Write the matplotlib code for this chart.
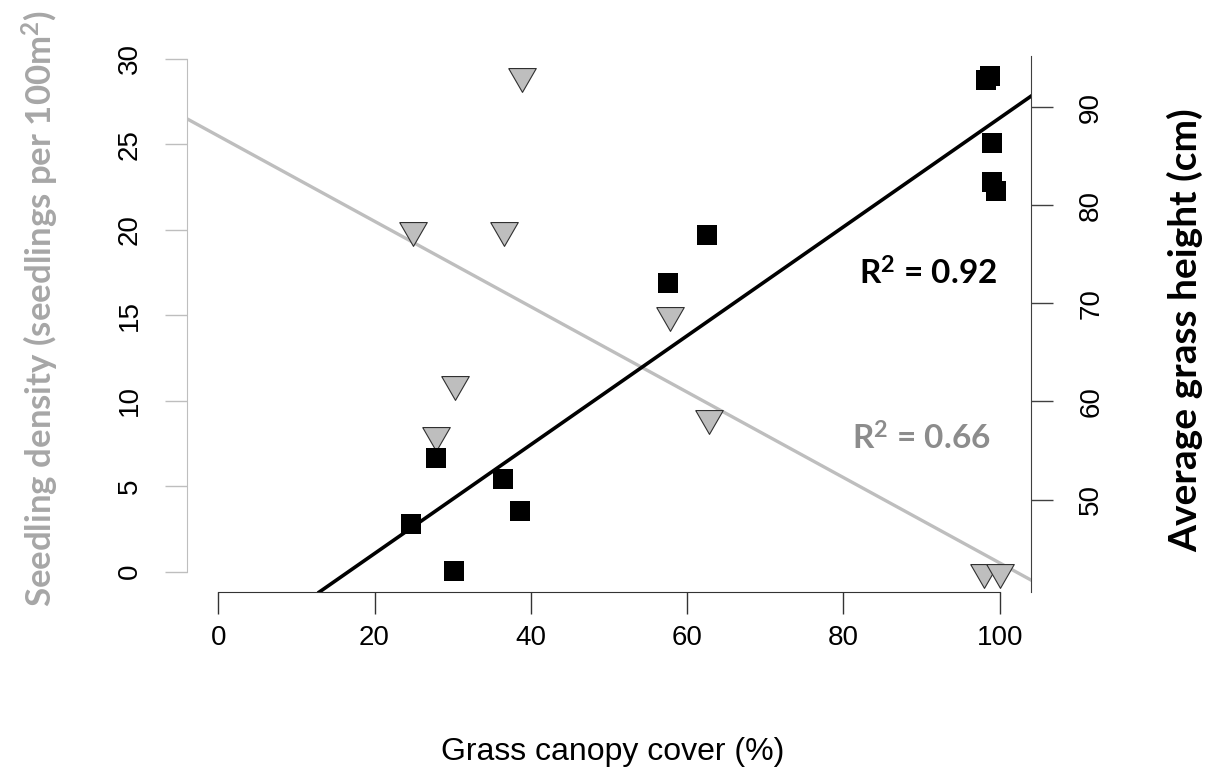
import matplotlib
matplotlib.use('Agg')
import matplotlib.pyplot as plt

# grass canopy cover (%) vs seedling density (grey triangles, left axis)
cover_tri = [24.9, 27.8, 30.3, 36.6, 38.9, 57.8, 62.8, 98.0, 100.0]
seedlings = [20, 8, 11, 20, 29, 15, 9, 0, 0]

# grass canopy cover (%) vs grass height (black squares, right axis)
cover_sq = [24.7, 27.8, 30.2, 36.4, 38.6, 57.6, 62.6, 98.2, 98.7, 99.0, 99.0, 99.5]
height = [47.5, 54.2, 42.7, 52.1, 48.8, 72.1, 77.0, 92.8, 93.2, 86.3, 82.4, 81.5]

# regression lines (intercept, slope)
seed_fit = (25.5, -0.25)
height_fit = (33.4, 0.555)
r2_seed = 0.66
r2_height = 0.92

x_ticks = [0, 20, 40, 60, 80, 100]
seed_ticks = [0, 5, 10, 15, 20, 25, 30]
height_ticks = [50, 60, 70, 80, 90]

GREY = '#bebebe'
TICKFONT = 'Liberation Sans'
TITLEFONT = 'Lato'

plt.rcParams['mathtext.fontset'] = 'custom'
plt.rcParams['mathtext.bf'] = 'Lato:bold'
plt.rcParams['mathtext.rm'] = 'Lato:bold'
plt.rcParams['mathtext.default'] = 'bf'

# R-style down triangle, centred on its centroid (pch = 25)
tri = [(-1.3468, 0.7776), (1.3468, 0.7776), (0.0, -1.5551), (-1.3468, 0.7776)]

fig = plt.figure(figsize=(12.06, 7.72), dpi=100)
ax = fig.add_axes([187 / 1206, 1 - 592 / 772, (1031 - 187) / 1206, (592 - 38.5) / 772])
ax2 = ax.twinx()

ax.set_xlim(-4, 104)
ax.set_ylim(-1.2, 31.2)
ax2.set_ylim(40.58, 97.0)

ax.axline((0, seed_fit[0]), slope=seed_fit[1], color=GREY, lw=2.4, zorder=2)
ax.plot(cover_tri, seedlings, linestyle='none', marker=tri, markersize=22.9,
        markerfacecolor=GREY, markeredgecolor='#303030', markeredgewidth=0.8, zorder=3)

ax2.axline((0, height_fit[0]), slope=height_fit[1], color='black', lw=2.6, zorder=2)
ax2.plot(cover_sq, height, linestyle='none', marker='s', markersize=14.6,
         color='black', markeredgewidth=0, zorder=3)

for a in (ax, ax2):
    a.spines['top'].set_visible(False)
    a.patch.set_visible(False)
ax2.spines['left'].set_visible(False)
ax2.spines['bottom'].set_visible(False)
ax.spines['right'].set_visible(False)

ax.spines['left'].set_bounds(0, 30)
ax.spines['left'].set_color(GREY)
ax.spines['bottom'].set_bounds(0, 100)
ax.spines['bottom'].set_color('#333333')
ax2.spines['right'].set_bounds(40.58, 95.2)
ax2.spines['right'].set_color('#404040')

ax.set_xticks(x_ticks)
ax.set_yticks(seed_ticks)
ax2.set_yticks(height_ticks)

ax.tick_params(axis='x', length=16, width=1, color='#333333', pad=8)
ax.tick_params(axis='y', length=16, width=1, color=GREY, pad=16)
ax2.tick_params(axis='y', length=16, width=1, color='#404040', pad=18)

for lab in ax.get_xticklabels():
    lab.set_fontfamily(TICKFONT)
    lab.set_fontsize(20)
for lab in ax.get_yticklabels() + ax2.get_yticklabels():
    lab.set_fontfamily(TICKFONT)
    lab.set_fontsize(20)
    lab.set_rotation(90)
    lab.set_va('center')

fig.text(613 / 1206, 1 - 752 / 772, 'Grass canopy cover (%)', ha='center', va='center',
         fontsize=23, family=TICKFONT)
fig.text(40 / 1206, 1 - 308 / 772, r'Seedling density (seedlings per 100m$^{2}$)', rotation=90,
         ha='center', va='center', fontsize=25, fontweight='bold', color='#a6a6a6',
         family=TITLEFONT)
fig.text(1185 / 1206, 1 - 330 / 772, 'Average grass height (cm)', rotation=90,
         ha='center', va='center', fontsize=28, fontweight='bold', color='black',
         family=TITLEFONT)

fig.text(928 / 1206, 1 - 273 / 772, r'R$^{2}$ = ' + f'{r2_height:.2f}', ha='center', va='center',
         fontsize=24, fontweight='bold', color='black', family=TITLEFONT)
fig.text(921 / 1206, 1 - 438 / 772, r'R$^{2}$ = ' + f'{r2_seed:.2f}', ha='center', va='center',
         fontsize=24, fontweight='bold', color='#8c8c8c', family=TITLEFONT)

plt.savefig('out.png', dpi=100)
